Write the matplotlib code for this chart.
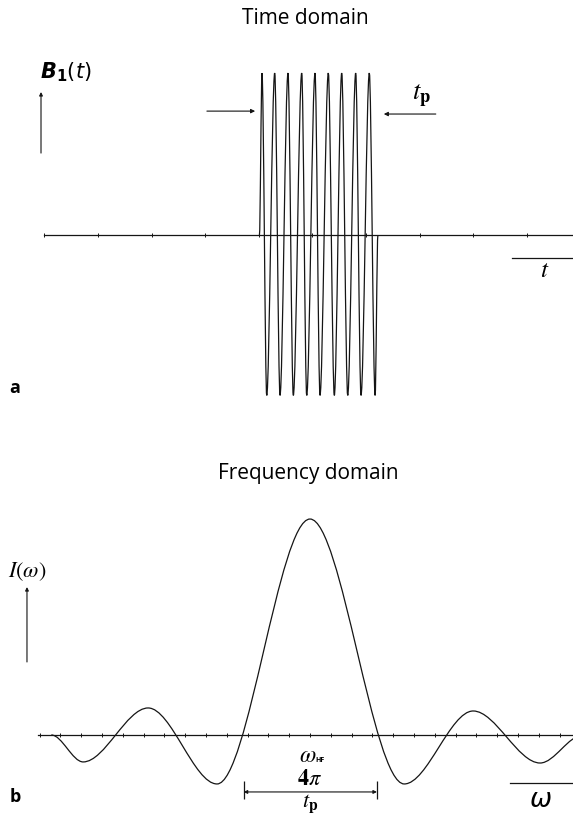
import matplotlib
matplotlib.use('Agg')
import matplotlib.pyplot as plt
import numpy as np
from matplotlib.path import Path
from matplotlib.patches import PathPatch

plt.rcParams['mathtext.fontset'] = 'stix'
plt.rcParams['font.family'] = ['Open Sans', 'DejaVu Sans']

# --- time domain: RF pulse, extrema read in tick units (t) and relative amplitude
pulse_start = 4.01
pulse_end = 6.22
top_t = [4.058, 4.295, 4.543, 4.799, 5.047, 5.295, 5.545, 5.806, 6.060]
bot_t = [4.146, 4.394, 4.642, 4.892, 5.140, 5.407, 5.657, 5.905, 6.168]
top_val = 1.0
bot_val = -0.99
time_ticks = np.arange(10)

# --- frequency domain: sinc-like spectrum, extrema in units of 2*pi/tp
freq_x = [-3.98, -3.49, -2.49, -1.43, 0.0, 1.45, 2.51, 3.54, 4.20]
freq_y = [0.0, -0.125, 0.125, -0.227, 1.0, -0.227, 0.111, -0.13, 0.0]
freq_ticks = 0.32 * np.arange(-13, 13)

LC = '#151515'
LW = 0.9


def smooth_path(xs, ys):
    # cubic segments with flat tangents at every node
    verts = [(xs[0], ys[0])]
    codes = [Path.MOVETO]
    for x0, y0, x1, y1 in zip(xs[:-1], ys[:-1], xs[1:], ys[1:]):
        dx = x1 - x0
        verts += [(x0 + dx / 3, y0), (x1 - dx / 3, y1), (x1, y1)]
        codes += [Path.CURVE4] * 3
    return Path(verts, codes)


def arrow(ax, head, tail, ms=6):
    ax.annotate('', xy=head, xytext=tail,
                arrowprops=dict(arrowstyle='-|>', lw=LW * 0.9, color=LC,
                                mutation_scale=ms, shrinkA=0, shrinkB=0))


fig = plt.figure(figsize=(5.73, 8.17), dpi=100)

# ---------------- panel a ----------------
ax1 = fig.add_axes([0, 397 / 817, 1, 420 / 817])
ax1.set_xlim(-0.830, 9.860)
ax1.set_ylim(-1.142, 1.451)
ax1.axis('off')

ax1.plot([0, 9.9], [0, 0], color=LC, lw=LW)
ax1.vlines(time_ticks, -0.014, 0.014, color=LC, lw=0.7)

px = [pulse_start]
py = [0.0]
for a, b in zip(top_t, bot_t):
    px += [a, b]
    py += [top_val, bot_val]
px.append(pulse_end)
py.append(0.0)
ax1.add_patch(PathPatch(smooth_path(px, py), fill=False, ec=LC, lw=LW))

arrow(ax1, (-0.065, 0.883), (-0.065, 0.506), ms=5)
arrow(ax1, (3.93, 0.765), (3.03, 0.765))
arrow(ax1, (6.33, 0.747), (7.30, 0.747))
ax1.plot([8.72, 9.9], [-0.142, -0.142], color=LC, lw=LW)

ax1.text(0.40, 1.006, r'$\mathbfit{B}_{\mathbf{1}}(\mathit{t})$', fontsize=15,
         ha='center', va='center', math_fontfamily='dejavusans')
ax1.text(7.04, 0.858, r'$t_\mathbf{p}$', fontsize=19, ha='center', va='center')
ax1.text(9.34, -0.222, r'$t$', fontsize=18, ha='center', va='center')
ax1.text(-0.55, -0.944, 'a', fontsize=13, fontweight='bold',
         ha='center', va='center')

# ---------------- panel b ----------------
ax2 = fig.add_axes([0, 0, 1, 377 / 817])
ax2.set_xlim(-4.769, 4.046)
ax2.set_ylim(-0.380, 1.366)
ax2.axis('off')

ax2.plot([-4.18, 4.1], [0, 0], color=LC, lw=LW)
ax2.vlines(freq_ticks, -0.01, 0.01, color=LC, lw=0.7)
ax2.add_patch(PathPatch(smooth_path(freq_x, freq_y), fill=False, ec=LC, lw=LW))

arrow(ax2, (-4.354, 0.685), (-4.354, 0.338), ms=5)
ax2.annotate('', xy=(1.03, -0.264), xytext=(-1.02, -0.264),
             arrowprops=dict(arrowstyle='<|-|>', lw=LW * 0.9, color=LC,
                             mutation_scale=5, shrinkA=0, shrinkB=0))
ax2.vlines([-1.02, 1.03], -0.296, -0.213, color=LC, lw=LW)
ax2.plot([3.07, 4.1], [-0.222, -0.222], color=LC, lw=LW)

ax2.text(-0.04, -0.098, r'$\omega$', fontsize=17, ha='center', va='center')
ax2.text(0.16, -0.118, 'HF', fontsize=5, fontweight='bold',
         ha='center', va='center')
ax2.text(0.0, -0.206, r'$\mathbf{4}\mathit{\pi}$', fontsize=16,
         ha='center', va='center')
ax2.text(0.0, -0.318, r'$t_\mathbf{p}$', fontsize=16, ha='center', va='center')
ax2.text(3.54, -0.303, r'$\omega$', fontsize=19, ha='center', va='center',
         math_fontfamily='dejavusans')
ax2.text(-4.354, 0.755, r'$I(\omega)$', fontsize=16, ha='center', va='center')
ax2.text(-4.54, -0.287, 'b', fontsize=13, fontweight='bold',
         ha='center', va='center')

fig.text(305 / 573, 1 - 18 / 817, 'Time domain', fontsize=15,
         ha='center', va='center')
fig.text(308 / 573, 1 - 473 / 817, 'Frequency domain', fontsize=15,
         ha='center', va='center')

fig.savefig('out.png', dpi=100)
